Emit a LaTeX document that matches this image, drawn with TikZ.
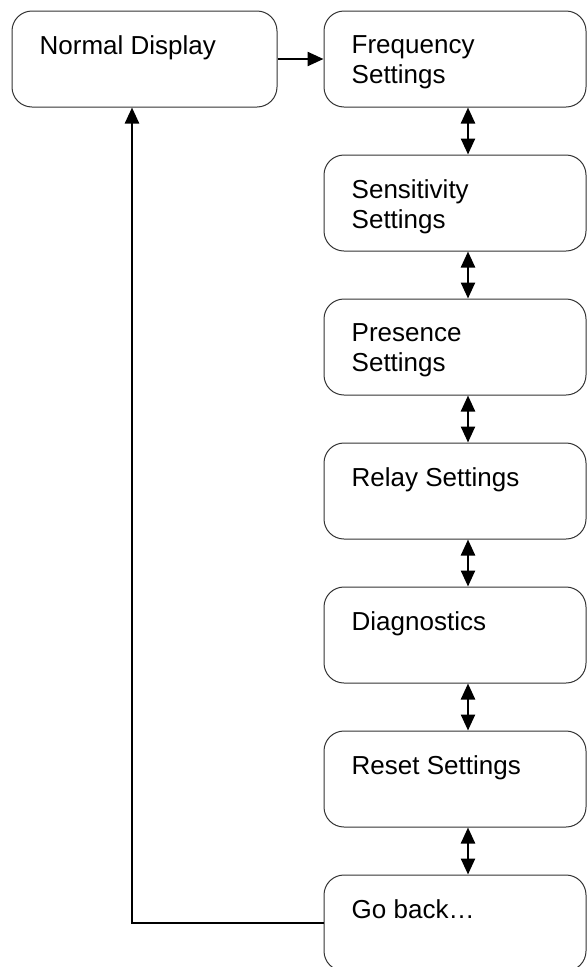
\documentclass[tikz,border=0pt]{standalone}
\usepackage{fontspec}
\setmainfont{Liberation Sans}
\usetikzlibrary{arrows.meta,positioning}
\newcommand{\boxgap}{47pt}
\tikzset{
    boxsty/.style={draw=black!80,line width=1pt,rounded corners=20pt,rectangle,minimum width=262pt,minimum height=96pt,inner sep=0pt},
    txtsty/.style={anchor=north west,inner sep=0pt,align=left,font=\fontsize{26}{29.5}\selectfont},
    arrsty/.style={line width=2.4pt,-{Triangle[length=16pt,width=14pt]}},
    dblsty/.style={line width=2.4pt,{Triangle[length=16pt,width=14pt]}-{Triangle[length=16pt,width=14pt]}},
}

\begin{document}
\begin{tikzpicture}[x=1pt,y=1pt]
  \useasboundingbox (0,0) rectangle (587,-967);

  \node[boxsty,minimum width=265pt] (normal) at (144.5,-59) {};
  \node[boxsty] (freq) at (455,-59) {};
  \node[boxsty,below=\boxgap of freq] (sens) {};
  \node[boxsty,below=\boxgap of sens] (pres) {};
  \node[boxsty,below=\boxgap of pres] (relay) {};
  \node[boxsty,below=\boxgap of relay] (diag) {};
  \node[boxsty,below=\boxgap of diag] (reset) {};
  \node[boxsty,below=\boxgap of reset] (goback) {};

  % texts, top left in each box
  \node[txtsty] (normaltxt) at ([xshift=28pt,yshift=-25pt]normal.north west) {Normal Display};
  \node[txtsty] (freqtxt) at ([xshift=28pt,yshift=-25pt]freq.north west) {Frequency\\Settings};
  \node[txtsty] (senstxt) at ([xshift=28pt,yshift=-25pt]sens.north west) {Sensitivity\\Settings};
  \node[txtsty] (prestxt) at ([xshift=28pt,yshift=-25pt]pres.north west) {Presence\\Settings};
  \node[txtsty] (relaytxt) at ([xshift=28pt,yshift=-25pt]relay.north west) {Relay Settings};
  \node[txtsty] (diagtxt) at ([xshift=28pt,yshift=-25pt]diag.north west) {Diagnostics};
  \node[txtsty] (resettxt) at ([xshift=28pt,yshift=-25pt]reset.north west) {Reset Settings};
  \node[txtsty] (gobacktxt) at ([xshift=28pt,yshift=-25pt]goback.north west) {Go back…};

  \draw[arrsty] (normal.east) -- (freq.west);
  \draw[dblsty] ([xshift=13pt]freq.south) -- ([xshift=13pt]sens.north);
  \draw[dblsty] ([xshift=13pt]sens.south) -- ([xshift=13pt]pres.north);
  \draw[dblsty] ([xshift=13pt]pres.south) -- ([xshift=13pt]relay.north);
  \draw[dblsty] ([xshift=13pt]relay.south) -- ([xshift=13pt]diag.north);
  \draw[dblsty] ([xshift=13pt]diag.south) -- ([xshift=13pt]reset.north);
  \draw[dblsty] ([xshift=13pt]reset.south) -- ([xshift=13pt]goback.north);

  % way back
  \draw[arrsty] (goback.west) -| ([xshift=-12.5pt]normal.south);
\end{tikzpicture}
\end{document}
